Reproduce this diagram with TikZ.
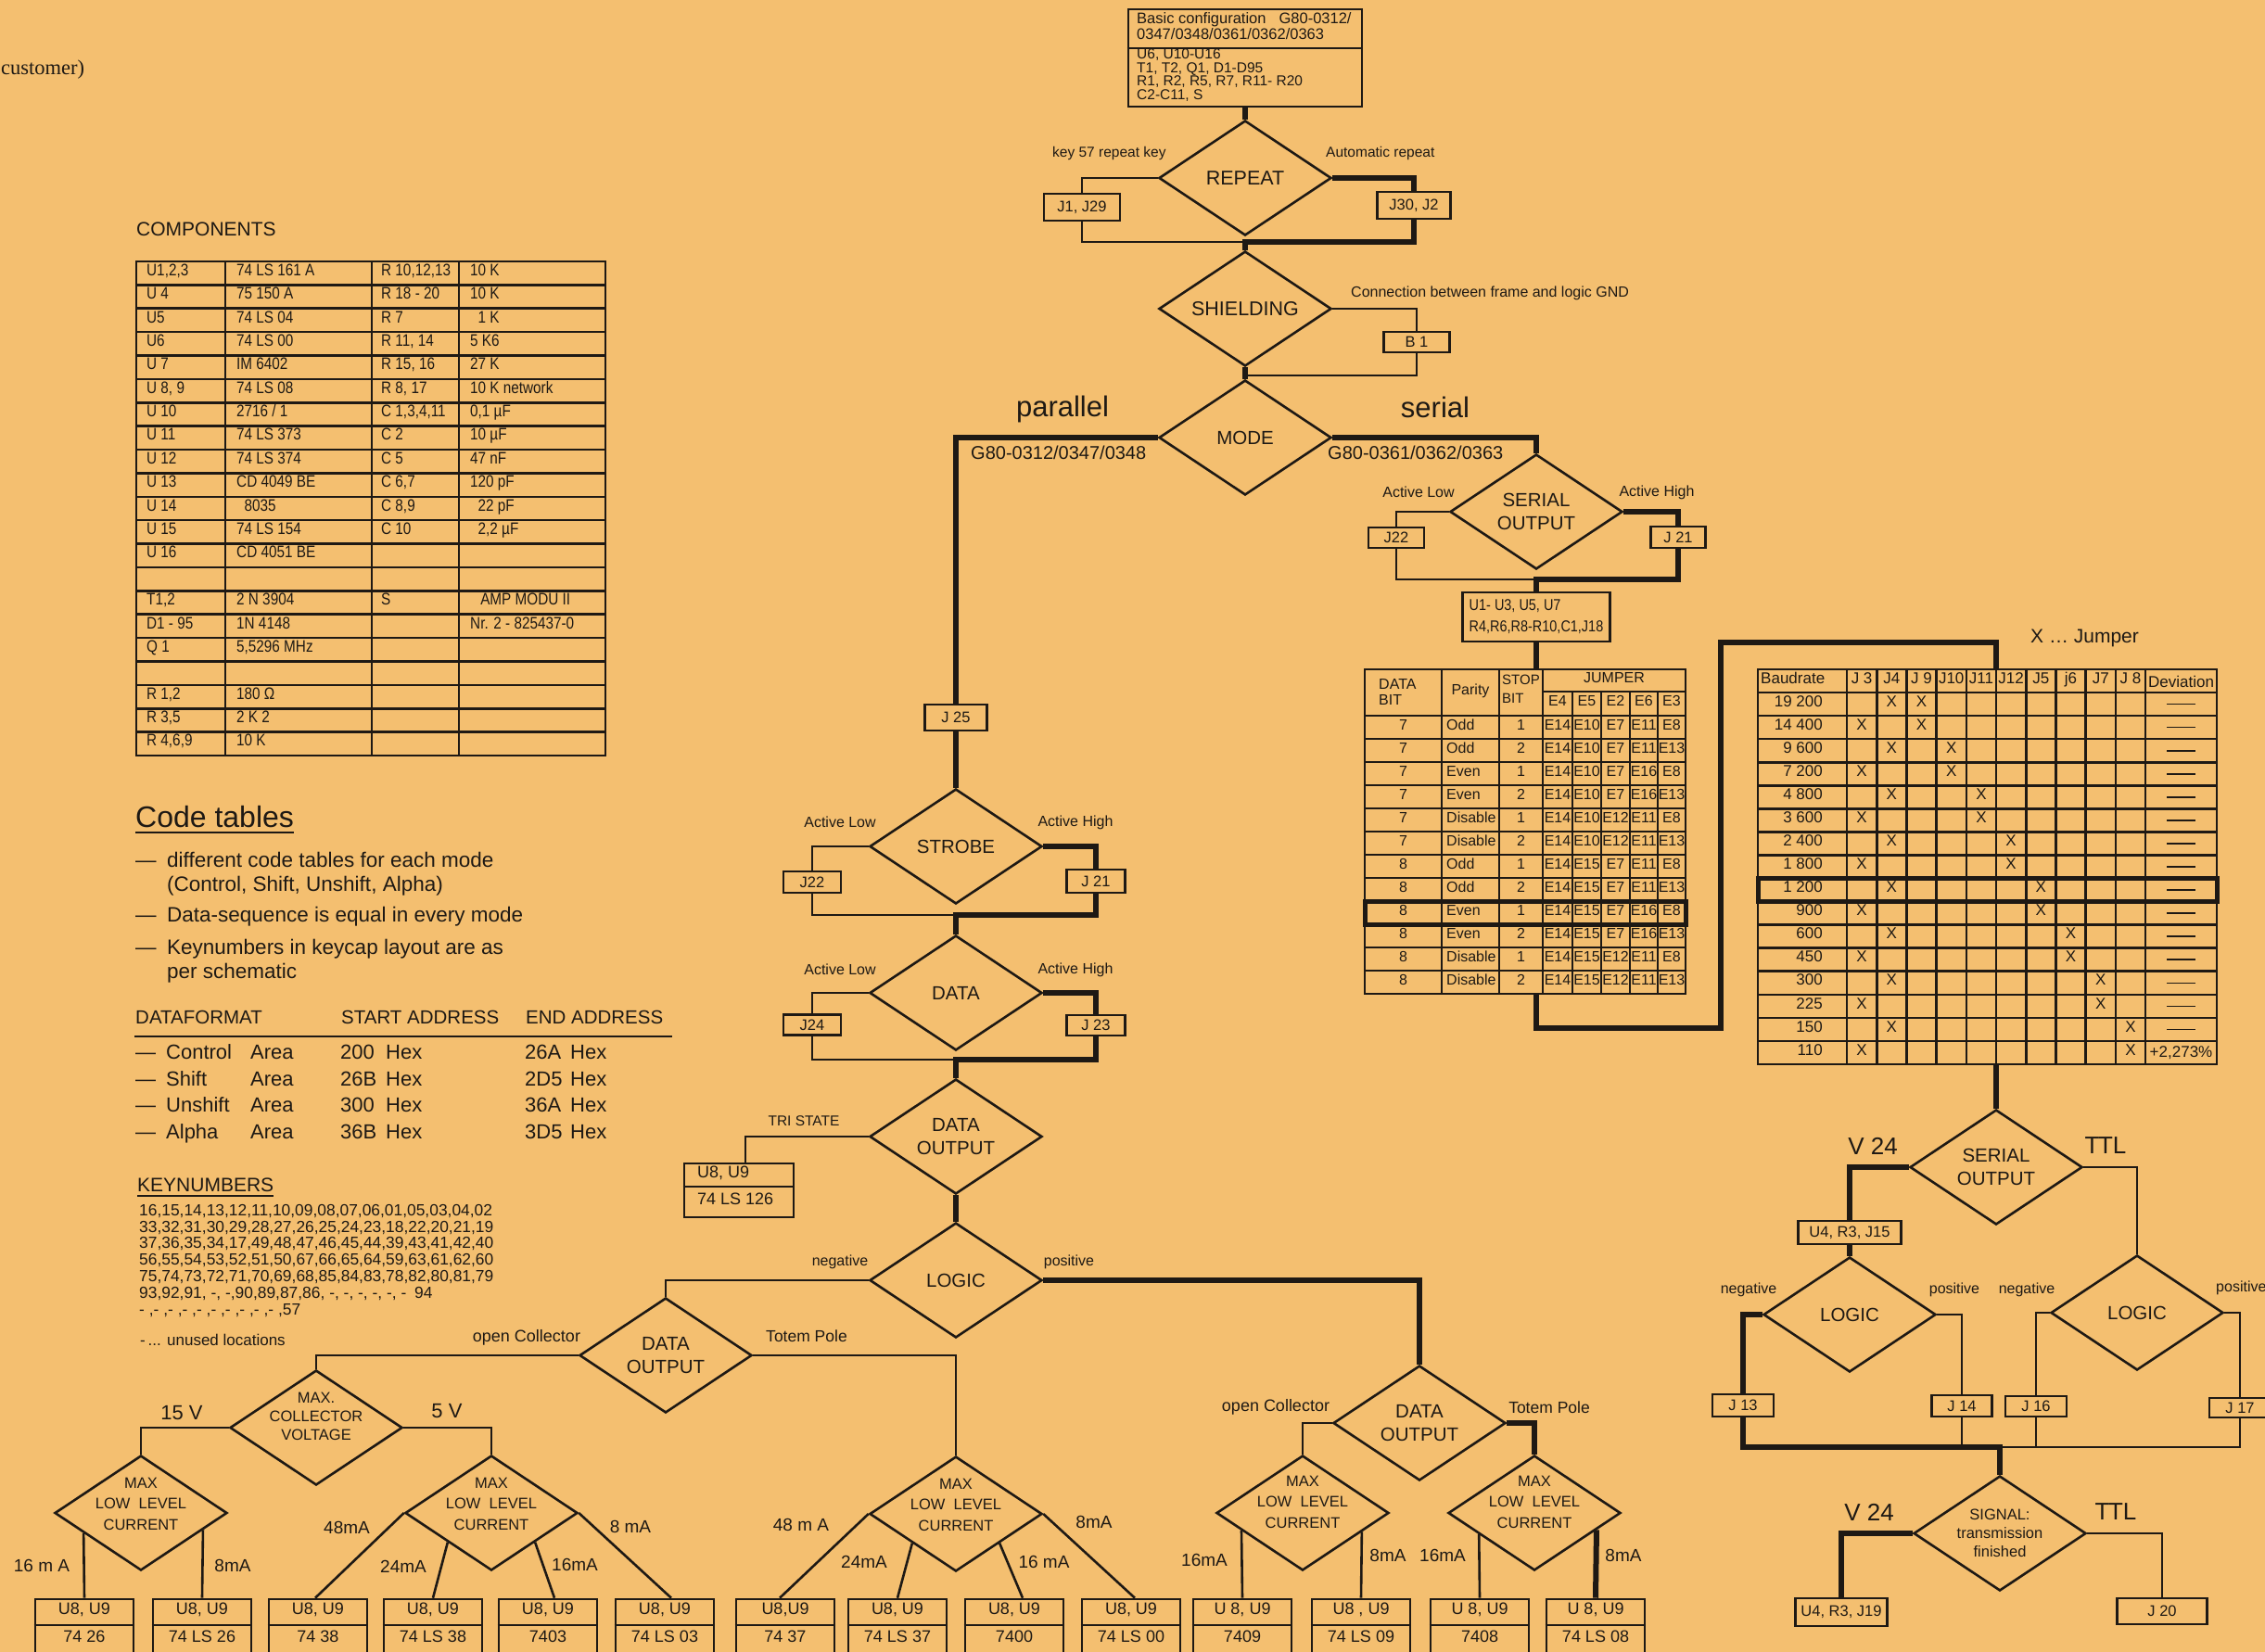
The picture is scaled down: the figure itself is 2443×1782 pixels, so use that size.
\documentclass[tikz,border=0pt]{standalone}
\usepackage{fontspec}
\setmainfont{Liberation Sans}
\newfontfamily\nf[FakeStretch=0.85]{Liberation Sans}
\newfontfamily\serfont{Liberation Serif}
\usetikzlibrary{shapes.geometric,calc}
\definecolor{paper}{RGB}{244,191,112}
\definecolor{ink}{RGB}{30,25,20}
\newcommand\crow[5]{%
 \pgfmathsetmacro\rowy{282+25.38*(#1-0.5)}%
 \node[ctb] (ca#1) at (158,\rowy) {#2};
 \node[ctb] (cb#1) at (255,\rowy) {#3};
 \node[ctb] (cc#1) at (411,\rowy) {#4};
 \node[ctb] (cd#1) at (507,\rowy) {#5};
}
\newcommand\drow[9]{%
 \pgfmathsetmacro\rowy{772+25*(#1-0.5)}%
 \node[dtb] (da#1) at (1513.5,\rowy) {#2};
 \node[dtb,anchor=mid west] (db#1) at (1560,\rowy) {#3};
 \node[dtb] (dc#1) at (1640.5,\rowy) {#4};
 \node[dtb] (dd#1) at (1680,\rowy) {#5};
 \node[dtb] (de#1) at (1711.5,\rowy) {#6};
 \node[dtb] (df#1) at (1742.5,\rowy) {#7};
 \node[dtb] (dg#1) at (1773,\rowy) {#8};
 \node[dtb] (dh#1) at (1803,\rowy) {#9};
}
\newcommand\brow[5]{%
 \pgfmathsetmacro\rowy{722+25.06*(#1+0.5)}%
 \pgfmathsetmacro\bxa{1992+32.2*(#3-0.5)}%
 \pgfmathsetmacro\bxb{1992+32.2*(#4-0.5)}%
 \node[btb,anchor=mid east] (br#1) at (1966,\rowy) {#2};
 \node[btb] (bx#1) at (\bxa,\rowy) {X};
 \node[btb] (by#1) at (\bxb,\rowy) {X};
 \node[btb,anchor=center] (bd#1) at (2352.5,\rowy) {#5};
}
\newcommand\chipbox[4]{%
 \node[cbox] (#1) at (#2,1762.5) {};
 \draw[ln] (#1.west |- chipdiv) -- (#1.east |- chipdiv);
 \node[ctext] (#1a) at (#2,1739) {#3};
 \node[ctext] (#1b) at (#2,1769) {#4};
}
\newcommand\dsh{\rule{31pt}{1.6pt}}
\begin{document}
\begin{tikzpicture}[x=1pt,y=-1pt,line join=miter,
 ln/.style={draw=ink,line width=2.6pt},
 tk/.style={draw=ink,line width=6pt},
 dia/.style={diamond,draw=ink,line width=2.6pt,inner sep=0pt,aspect=1.5,minimum width=186pt,minimum height=124pt,align=center,text=ink,font=\fontsize{20.5}{24.5}\selectfont},
 jb/.style={draw=ink,line width=2.6pt,fill=paper,inner sep=0pt,text=ink,font=\fontsize{16.5}{18}\selectfont},
 txt/.style={inner sep=0pt,text=ink,font=\fontsize{#1}{#1}\selectfont},
 txtn/.style={inner sep=0pt,text=ink,font=\nf\fontsize{#1}{#1}\selectfont},
 ctb/.style={inner sep=0pt,text=ink,anchor=mid west,font=\nf\fontsize{18}{18}\selectfont},
 dtb/.style={inner sep=0pt,text=ink,anchor=mid,font=\fontsize{16}{16}\selectfont},
 btb/.style={inner sep=0pt,text=ink,anchor=mid,font=\fontsize{17}{17}\selectfont},
 cbox/.style={draw=ink,line width=2.6pt,inner sep=0pt,minimum width=106pt,minimum height=75pt},
 ctext/.style={inner sep=0pt,text=ink,anchor=mid,font=\fontsize{18}{18}\selectfont},
 mll/.style={inner sep=0pt,text=ink,align=center,font=\fontsize{16.5}{22.5}\selectfont}
]
\path[use as bounding box,fill=paper] (0,0) rectangle (2443,1782);
\clip (0,0) rectangle (2443,1782);
\coordinate (chipdiv) at (0,1753);

% ---------- top-left ----------
\node[inner sep=0pt,text=ink,anchor=mid west,font=\serfont\fontsize{22.5}{22.5}\selectfont] (cust) at (1,78) {customer)};

% ---------- components table ----------
\node[txt=21,anchor=mid west] (comptitle) at (147,252) {COMPONENTS};
\draw[ln] (147,282) rectangle (653,815);
\foreach \i in {1,...,20} \draw[ln] (147,{282+25.38*\i}) -- (653,{282+25.38*\i});
\foreach \x in {243,401,495} \draw[ln] (\x,282) -- (\x,815);
\crow{1}{U1,2,3}{74 LS 161 A}{R 10,12,13}{10 K}
\crow{2}{U 4}{75 150 A}{R 18 - 20}{10 K}
\crow{3}{U5}{74 LS 04}{R 7}{\hphantom{1}1 K}
\crow{4}{U6}{74 LS 00}{R 11, 14}{5 K6}
\crow{5}{U 7}{IM 6402}{R 15, 16}{27 K}
\crow{6}{U 8, 9}{74 LS 08}{R 8, 17}{10 K network}
\crow{7}{U 10}{2716 / 1}{C 1,3,4,11}{0,1 µF}
\crow{8}{U 11}{74 LS 373}{C 2}{10 µF}
\crow{9}{U 12}{74 LS 374}{C 5}{47 nF}
\crow{10}{U 13}{CD 4049 BE}{C 6,7}{120 pF}
\crow{11}{U 14}{\hphantom{7}8035}{C 8,9}{\hphantom{1}22 pF}
\crow{12}{U 15}{74 LS 154}{C 10}{\hphantom{1}2,2 µF}
\crow{13}{U 16}{CD 4051 BE}{}{}
\crow{14}{}{}{}{}
\crow{15}{T1,2}{2 N 3904}{S}{\hphantom{N}AMP MODU II}
\crow{16}{D1 - 95}{1N 4148}{}{Nr. 2 - 825437-0}
\crow{17}{Q 1}{5,5296 MHz}{}{}
\crow{18}{}{}{}{}
\crow{19}{R 1,2}{180 Ω}{}{}
\crow{20}{R 3,5}{2 K 2}{}{}
\crow{21}{R 4,6,9}{10 K}{}{}

% ---------- code tables ----------
\node[txt=32,anchor=mid west] (ct) at (146,890) {Code tables};
\draw[draw=ink,line width=2.4pt] ([yshift=-5pt]ct.south west) -- ([yshift=-5pt]ct.south east);
\node[txt=22.5,anchor=mid west] (d1) at (146,933) {—};
\node[txt=22.5,anchor=mid west] (t1) at (180,933) {different code tables for each mode};
\node[txt=22.5,anchor=mid west] (t1b) at (180,959) {(Control, Shift, Unshift, Alpha)};
\node[txt=22.5,anchor=mid west] (d2) at (146,992) {—};
\node[txt=22.5,anchor=mid west] (t2) at (180,992) {Data-sequence is equal in every mode};
\node[txt=22.5,anchor=mid west] (d3) at (146,1027) {—};
\node[txt=22.5,anchor=mid west] (t3) at (180,1027) {Keynumbers in keycap layout are as};
\node[txt=22.5,anchor=mid west] (t3b) at (180,1053) {per schematic};
\node[txt=20.5,anchor=mid west] (hdf) at (146,1102) {DATAFORMAT};
\node[txt=20.5,anchor=mid west] (hsa) at (368,1102) {START ADDRESS};
\node[txt=20.5,anchor=mid west] (hea) at (567,1102) {END ADDRESS};
\draw[draw=ink,line width=2pt] (145,1118) -- (725,1118);
\foreach \n/\y/\nm/\sa/\ea in {1/1140/Control/200/26A,2/1168.5/Shift/26B/2D5,3/1197/Unshift/300/36A,4/1225.5/Alpha/36B/3D5}{
 \node[txt=22,anchor=mid west] (fd\n) at (146,\y) {—};
 \node[txt=22,anchor=mid west] (fn\n) at (179,\y) {\nm};
 \node[txt=22,anchor=mid west] (fa\n) at (270,\y) {Area};
 \node[txt=22,anchor=mid west] (fs\n) at (367,\y) {\sa};
 \node[txt=22,anchor=mid west] (fh\n) at (416,\y) {Hex};
 \node[txt=22,anchor=mid west] (fe\n) at (566,\y) {\ea};
 \node[txt=22,anchor=mid west] (fg\n) at (615,\y) {Hex};
}
\node[txt=21,anchor=mid west] (kn) at (148,1283) {KEYNUMBERS};
\draw[draw=ink,line width=2pt] ([yshift=-4pt]kn.south west) -- ([yshift=-4pt]kn.south east);
\node[txt=17.4,anchor=mid west] (k1) at (150,1309) {16,15,14,13,12,11,10,09,08,07,06,01,05,03,04,02};
\node[txt=17.4,anchor=mid west] (k2) at (150,1327) {33,32,31,30,29,28,27,26,25,24,23,18,22,20,21,19};
\node[txt=17.4,anchor=mid west] (k3) at (150,1344) {37,36,35,34,17,49,48,47,46,45,44,39,43,41,42,40};
\node[txt=17.4,anchor=mid west] (k4) at (150,1362) {56,55,54,53,52,51,50,67,66,65,64,59,63,61,62,60};
\node[txt=17.4,anchor=mid west] (k5) at (150,1380) {75,74,73,72,71,70,69,68,85,84,83,78,82,80,81,79};
\node[txt=17.4,anchor=mid west] (k6) at (150,1398) {93,92,91, -, -,90,89,87,86, -, -, -, -, -, -\enspace 94};
\node[txt=17.4,anchor=mid west] (k7) at (150,1416) {- ,- ,- ,- ,- ,- ,- ,- ,- ,- ,57};
\node[txt=17,anchor=mid west] (kun) at (151,1449) {-\,... unused locations};

% ---------- flowchart: nodes ----------
\node[draw=ink,line width=2.6pt,minimum width=252pt,minimum height=105pt,inner sep=0pt] (basic) at (1343,62.5) {};
\coordinate (bdiv) at (0,52);
\draw[ln] (basic.west |- bdiv) -- (basic.east |- bdiv);
\node[txt=16.5,anchor=mid west] (bt1) at (1226,23) {Basic configuration\hspace{14pt}G80-0312/};
\node[txt=16.5,anchor=mid west] (bt2) at (1226,40) {0347/0348/0361/0362/0363};
\node[txt=15.5,anchor=mid west] (bt3) at (1226,61) {U6, U10-U16};
\node[txt=15.5,anchor=mid west] (bt4) at (1226,75.5) {T1, T2, Q1, D1-D95};
\node[txt=15.5,anchor=mid west] (bt5) at (1226,90) {R1, R2, R5, R7, R11- R20};
\node[txt=15.5,anchor=mid west] (bt6) at (1226,104.5) {C2-C11, S};

\node[dia,font=\fontsize{21.5}{24}\selectfont] (rep) at (1343,192) {REPEAT};
\node[dia,font=\fontsize{21.5}{24}\selectfont] (shd) at (1343,333) {SHIELDING};
\node[dia] (mode) at (1343,472) {MODE};
\node[dia] (ser1) at (1657,552) {SERIAL\\OUTPUT};
\node[dia] (strobe) at (1031,913) {STROBE};
\node[dia] (data) at (1031,1071) {DATA};
\node[dia] (dout) at (1031,1226) {DATA\\OUTPUT};
\node[dia] (logic) at (1031,1381) {LOGIC};
\node[dia] (doutL) at (718,1462) {DATA\\OUTPUT};
\node[dia] (doutR) at (1531,1535) {DATA\\OUTPUT};
\node[dia] (mcv) at (341,1540) {};
\node[dia] (mllc1) at (152,1632) {};
\node[dia] (mllc2) at (530,1632) {};
\node[dia] (mllcM) at (1031,1633) {};
\node[dia] (mllc4) at (1405,1632) {};
\node[dia] (mllc5) at (1655,1632) {};
\node[dia] (ser2) at (2153,1259) {SERIAL\\OUTPUT};
\node[dia] (logL) at (1995,1418) {LOGIC};
\node[dia] (logR) at (2305,1416) {LOGIC};
\node[dia,font=\fontsize{16.5}{20}\selectfont] (sig) at (2157,1654) {SIGNAL:\\transmission\\finished};

\node[mll,font=\fontsize{16.5}{20}\selectfont] (mcvt) at (341,1528) {MAX.\\COLLECTOR\\VOLTAGE};
\node[mll] (m1t) at (152,1622) {MAX\\LOW\ \ LEVEL\\CURRENT};
\node[mll] (m2t) at (530,1622) {MAX\\LOW\ \ LEVEL\\CURRENT};
\node[mll] (mMt) at (1031,1623) {MAX\\LOW\ \ LEVEL\\CURRENT};
\node[mll] (m4t) at (1405,1620) {MAX\\LOW\ \ LEVEL\\CURRENT};
\node[mll] (m5t) at (1655,1620) {MAX\\LOW\ \ LEVEL\\CURRENT};

% jumper boxes
\node[jb,minimum width=82pt,minimum height=29pt] (j1) at (1167,223.5) {J1, J29};
\node[jb,minimum width=79pt,minimum height=29pt] (j30) at (1525,221.5) {J30, J2};
\node[jb,minimum width=71pt,minimum height=22pt] (b1) at (1528,369) {B 1};
\node[jb,minimum width=67pt,minimum height=28pt] (j25) at (1031,774) {J 25};
\node[jb,minimum width=60pt,minimum height=22pt] (j22a) at (1506,580) {J22};
\node[jb,minimum width=59pt,minimum height=23pt] (j21a) at (1810,579.5) {J 21};
\node[jb,minimum width=62pt,minimum height=23pt] (j22b) at (876,951.5) {J22};
\node[jb,minimum width=63pt,minimum height=25pt] (j21b) at (1182,950.5) {J 21};
\node[jb,minimum width=62pt,minimum height=22pt] (j24) at (876,1105.5) {J24};
\node[jb,minimum width=63pt,minimum height=22pt] (j23) at (1182,1106) {J 23};
\node[jb,minimum width=111pt,minimum height=25pt] (u4a) at (1995,1329.5) {U4, R3, J15};
\node[jb,minimum width=66pt,minimum height=24pt] (j13) at (1880,1516) {J 13};
\node[jb,minimum width=65pt,minimum height=23pt] (j14) at (2116,1516.5) {J 14};
\node[jb,minimum width=66pt,minimum height=22pt] (j16) at (2196,1517) {J 16};
\node[jb,minimum width=66pt,minimum height=21pt] (j17) at (2416,1518.5) {J 17};
\node[jb,minimum width=99pt,minimum height=30pt] (u4b) at (1986,1739) {U4, R3, J19};
\node[jb,minimum width=97pt,minimum height=28pt] (j20) at (2332,1738) {J 20};
\node[jb,minimum width=159pt,minimum height=53pt,align=left,font=\nf\fontsize{17}{23}\selectfont] (ubox) at (1657,665.5) {U1- U3, U5, U7\\R4,R6,R8-R10,C1,J18};
\node[draw=ink,line width=2.6pt,inner sep=0pt,minimum width=118pt,minimum height=58pt] (ls126) at (797,1284) {};
\coordinate (lsdiv) at (0,1280);
\draw[ln] (ls126.west |- lsdiv) -- (ls126.east |- lsdiv);
\node[txt=18,anchor=mid west] (ls126a) at (752,1268) {U8, U9};
\node[txt=18,anchor=mid west] (ls126b) at (752,1297) {74 LS 126};

% chip boxes
\chipbox{bA}{91}{U8, U9}{74 26}
\chipbox{bB}{218}{U8, U9}{74 LS 26}
\chipbox{bC}{343}{U8, U9}{74 38}
\chipbox{bD}{467}{U8, U9}{74 LS 38}
\chipbox{bE}{591}{U8, U9}{7403}
\chipbox{bF}{717}{U8, U9}{74 LS 03}
\chipbox{bG}{847}{U8,U9}{74 37}
\chipbox{bH}{968}{U8, U9}{74 LS 37}
\chipbox{bI}{1094}{U8, U9}{7400}
\chipbox{bJ}{1220}{U8, U9}{74 LS 00}
\chipbox{bK}{1340}{U 8, U9}{7409}
\chipbox{bL}{1468}{U8 , U9}{74 LS 09}
\chipbox{bM}{1596}{U 8, U9}{7408}
\chipbox{bN}{1721}{U 8, U9}{74 LS 08}

% labels
\node[txt=15.5,anchor=mid west] (lk57) at (1135,167) {key 57 repeat key};
\node[txt=15.5,anchor=mid west] (lauto) at (1430,167) {Automatic repeat};
\node[txt=16,anchor=mid west] (lconn) at (1457,318) {Connection between frame and logic GND};
\node[txt=31] (lpar) at (1146,441) {parallel};
\node[txt=31] (lser) at (1548,439) {serial};
\node[txt=20,anchor=mid west] (lg1) at (1047,493) {G80-0312/0347/0348};
\node[txt=20,anchor=mid west] (lg2) at (1432,493) {G80-0361/0362/0363};
\node[txt=16] (lal1) at (1530,531) {Active Low};
\node[txt=16] (lah1) at (1787,531) {Active High};
\node[txt=16] (lal2) at (906,887) {Active Low};
\node[txt=16] (lah2) at (1160,887) {Active High};
\node[txt=16] (lal3) at (906,1046) {Active Low};
\node[txt=16] (lah3) at (1160,1046) {Active High};
\node[txt=15.5] (ltri) at (867,1209) {TRI STATE};
\node[txt=16] (lneg1) at (906,1361) {negative};
\node[txt=16] (lpos1) at (1153,1361) {positive};
\node[txt=18] (loc1) at (568,1443) {open Collector};
\node[txt=17.5] (ltp1) at (870,1441) {Totem Pole};
\node[txt=18] (loc2) at (1376,1518) {open Collector};
\node[txt=17.5] (ltp2) at (1671,1518) {Totem Pole};
\node[txt=22] (l15v) at (196,1524) {15 V};
\node[txt=22] (l5v) at (482,1522) {5 V};
\node[txt=19] (la1) at (45,1689) {16 m A};
\node[txt=19] (la2) at (251,1689) {8mA};
\node[txt=19] (la3) at (374,1648) {48mA};
\node[txt=19] (la4) at (435,1690) {24mA};
\node[txt=19] (la5) at (620,1688) {16mA};
\node[txt=19] (la6) at (680,1647) {8 mA};
\node[txt=19] (la7) at (864,1645) {48 m A};
\node[txt=19] (la8) at (932,1685) {24mA};
\node[txt=19] (la9) at (1126,1685) {16 mA};
\node[txt=19] (la10) at (1180,1642) {8mA};
\node[txt=19] (la11) at (1299,1683) {16mA};
\node[txt=19] (la12) at (1497,1678) {8mA};
\node[txt=19] (la13) at (1556,1678) {16mA};
\node[txt=19] (la14) at (1751,1678) {8mA};
\node[txt=21,anchor=mid west] (ljump) at (2190,691) {X \dots\ Jumper};
\node[txt=26] (lv1) at (2020,1236) {V 24};
\node[txt=26] (lt1) at (2271,1236) {T\kern-1.5pt TL};
\node[txt=16] (lneg2) at (1886,1391) {negative};
\node[txt=16] (lpos2) at (2108,1391) {positive};
\node[txt=16] (lneg3) at (2186,1391) {negative};
\node[txt=16,anchor=mid west] (lpos3) at (2390,1391) {positive};
\node[txt=26] (lv2) at (2016,1631) {V 24};
\node[txt=26] (lt2) at (2282,1631) {T\kern-1.5pt TL};

% ---------- data table ----------
\draw[ln] (1472,722) rectangle (1818,1072);
\foreach \x in {1555,1617,1664} \draw[ln] (\x,722) -- (\x,1072);
\foreach \x in {1696,1727,1758,1788} \draw[ln] (\x,746) -- (\x,1072);
\draw[ln] (1664,746) -- (1818,746);
\foreach \i in {0,...,11} \draw[ln] (1472,{772+25*\i}) -- (1818,{772+25*\i});
\draw[draw=ink,line width=5pt] (1472,972) rectangle (1818,997);
\node[dtb,anchor=mid west] (dh1) at (1487,741) {DATA};
\node[dtb,anchor=mid west] (dh2) at (1487,758) {BIT};
\node[dtb] (dh3) at (1586,747) {Parity};
\node[dtb,anchor=mid west,font=\fontsize{15}{15}\selectfont] (dh4) at (1620,736) {STOP};
\node[dtb,anchor=mid west,font=\fontsize{15}{15}\selectfont] (dh5) at (1620,756) {BIT};
\node[dtb] (dh6) at (1741,734) {JUMPER};
\node[dtb] (dh7) at (1680,759) {E4};
\node[dtb] (dh8) at (1711.5,759) {E5};
\node[dtb] (dh9) at (1742.5,759) {E2};
\node[dtb] (dh10) at (1773,759) {E6};
\node[dtb] (dh11) at (1803,759) {E3};
\drow{1}{7}{Odd}{1}{E14}{E10}{E7}{E11}{E8}
\drow{2}{7}{Odd}{2}{E14}{E10}{E7}{E11}{E13}
\drow{3}{7}{Even}{1}{E14}{E10}{E7}{E16}{E8}
\drow{4}{7}{Even}{2}{E14}{E10}{E7}{E16}{E13}
\drow{5}{7}{Disable}{1}{E14}{E10}{E12}{E11}{E8}
\drow{6}{7}{Disable}{2}{E14}{E10}{E12}{E11}{E13}
\drow{7}{8}{Odd}{1}{E14}{E15}{E7}{E11}{E8}
\drow{8}{8}{Odd}{2}{E14}{E15}{E7}{E11}{E13}
\drow{9}{8}{Even}{1}{E14}{E15}{E7}{E16}{E8}
\drow{10}{8}{Even}{2}{E14}{E15}{E7}{E16}{E13}
\drow{11}{8}{Disable}{1}{E14}{E15}{E12}{E11}{E8}
\drow{12}{8}{Disable}{2}{E14}{E15}{E12}{E11}{E13}

% ---------- baud table ----------
\draw[ln] (1896,722) rectangle (2391,1148);
\foreach \i in {0,...,10} \draw[ln] ({1992+32.2*\i},722) -- ({1992+32.2*\i},1148);
\foreach \k in {1,...,16} \draw[ln] (1896,{722+25.06*\k}) -- (2391,{722+25.06*\k});
\draw[draw=ink,line width=5pt] (1896,947.5) rectangle (2391,972.6);
\node[btb,anchor=mid west] (bh0) at (1899,734.5) {Baudrate};
\foreach \c/\t in {1/J 3,2/J4,3/J 9,4/J10,5/J11,6/J12,7/J5,8/j6,9/J7,10/J 8}
 \node[btb] (bh\c) at ({1992+32.2*(\c-0.5)},734.5) {\t};
\node[btb,anchor=center] (bh11) at (2352.5,735) {Deviation};
\brow{1}{19 200}{2}{3}{\dsh}
\brow{2}{14 400}{1}{3}{\dsh}
\brow{3}{9 600}{2}{4}{\dsh}
\brow{4}{7 200}{1}{4}{\dsh}
\brow{5}{4 800}{2}{5}{\dsh}
\brow{6}{3 600}{1}{5}{\dsh}
\brow{7}{2 400}{2}{6}{\dsh}
\brow{8}{1 800}{1}{6}{\dsh}
\brow{9}{1 200}{2}{7}{\dsh}
\brow{10}{900}{1}{7}{\dsh}
\brow{11}{600}{2}{8}{\dsh}
\brow{12}{450}{1}{8}{\dsh}
\brow{13}{300}{2}{9}{\dsh}
\brow{14}{225}{1}{9}{\dsh}
\brow{15}{150}{2}{10}{\dsh}
\brow{16}{110}{1}{10}{+2,273\%}

% ---------- connectors ----------
\coordinate (repj) at (1343,261);
\coordinate (shj) at (1343,405);
\coordinate (s1j) at (1657,625);
\coordinate (stj) at (1031,987);
\coordinate (dtj) at (1031,1143);
\coordinate (dtT) at (1657,722);
\coordinate (dtB) at (1657,1072);
\coordinate (cA) at (1856,1109);
\coordinate (cB) at (1856,693);
\coordinate (btT) at (2153,722);
\coordinate (btB) at (2153,1148);
\coordinate (serj) at (2157,1561);

% thin
\draw[ln] (rep.west) -| (j1.north);
\draw[ln] (j1.south) |- (repj);
\draw[ln] (shd.east) -| (b1.north);
\draw[ln] (b1.south) |- (shj);
\draw[ln] (ser1.west) -| (j22a.north);
\draw[ln] (j22a.south) |- (s1j);
\draw[ln] (strobe.west) -| (j22b.north);
\draw[ln] (j22b.south) |- (stj);
\draw[ln] (data.west) -| (j24.north);
\draw[ln] (j24.south) |- (dtj);
\draw[ln] (dout.west) -| ([xshift=7pt]ls126.north);
\draw[ln] (logic.west) -| (doutL.north);
\draw[ln] (doutL.west) -| (mcv.north);
\draw[ln] (doutL.east) -| (mllcM.north);
\draw[ln] (mcv.west) -| (mllc1.north);
\draw[ln] (mcv.east) -| (mllc2.north);
\draw[ln] ($(mllc1.west)!0.344!(mllc1.south)$) -- (bA.north);
\draw[ln] ($(mllc1.south)!0.71!(mllc1.east)$) -- (bB.north);
\draw[ln] (mllc2.west) -- ([xshift=-3pt]bC.north);
\draw[ln] (mllc2.south west) -- (bD.north);
\draw[ln] (mllc2.south east) -- ([xshift=7pt]bE.north);
\draw[ln] (mllc2.east) -- ([xshift=7pt]bF.north);
\draw[ln] (mllcM.west) -- ([xshift=-6pt]bG.north);
\draw[ln] (mllcM.south west) -- (bH.north);
\draw[ln] (mllcM.south east) -- ([xshift=9pt]bI.north);
\draw[ln] (mllcM.east) -- ([xshift=4pt]bJ.north);
\draw[ln] (doutR.west) -| (mllc4.north);
\draw[ln] ($(mllc4.west)!0.30!(mllc4.south)$) -- (bK.north);
\draw[ln] ($(mllc4.south)!0.677!(mllc4.east)$) -- (bL.north);
\draw[ln] ($(mllc5.west)!0.366!(mllc5.south)$) -- (bM.north);
\draw[ln] (logL.east) -| (j14.north);
\draw[ln] (j14.south) |- (serj);
\draw[ln] (ser2.east) -| (logR.north);
\draw[ln] (logR.west) -| (j16.north);
\draw[ln] (j16.south) |- (serj);
\draw[ln] (logR.east) -| (j17.north);
\draw[ln] (j17.south) |- (serj);
\draw[ln] (sig.east) -| (j20.north);

% thick
\draw[tk] (basic.south) -- (rep.north);
\draw[tk] (rep.east) -| (j30.north);
\draw[tk] (j30.south) |- (repj) -- (shd.north);
\draw[tk] (shd.south) -- (mode.north);
\draw[tk] (mode.west) -| (j25.north);
\draw[tk] (j25.south) -- (strobe.north);
\draw[tk] (mode.east) -| (ser1.north);
\draw[tk] (ser1.east) -| (j21a.north);
\draw[tk] (j21a.south) |- (s1j) -- (ubox.north);
\draw[tk] (ubox.south) -- (dtT);
\draw[tk] (dtB) |- (cA) -- (cB) -| (btT);
\draw[tk] (btB) -- (ser2.north);
\draw[tk] (strobe.east) -| (j21b.north);
\draw[tk] (j21b.south) |- (stj) -- (data.north);
\draw[tk] (data.east) -| (j23.north);
\draw[tk] (j23.south) |- (dtj) -- (dout.north);
\draw[tk] (dout.south) -- (logic.north);
\draw[tk] (logic.east) -| (doutR.north);
\draw[tk] (doutR.east) -| (mllc5.north);
\draw[tk] ($(mllc5.south)!0.71!(mllc5.east)$) -- (bN.north);
\draw[tk] (ser2.west) -| (u4a.north);
\draw[tk] (u4a.south) -- (logL.north);
\draw[tk] (logL.west) -| (j13.north);
\draw[tk] (j13.south) |- (serj) -- (sig.north);
\draw[tk] (sig.west) -| (u4b.north);
\end{tikzpicture}
\end{document}
